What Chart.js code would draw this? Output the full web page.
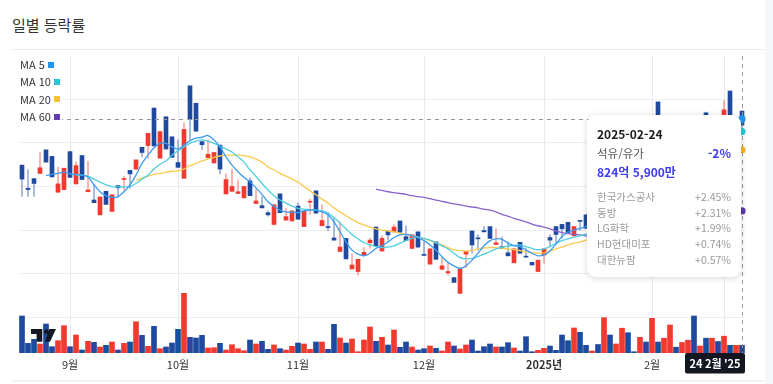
<!DOCTYPE html>
<html lang="ko">
<head>
<meta charset="utf-8">
<script src="https://cdn.jsdelivr.net/npm/chart.js@4.4.1/dist/chart.umd.min.js"></script>
<style>
html,body{margin:0;padding:0;background:#fff;}
body{width:773px;height:384px;position:relative;overflow:hidden;font-family:'Noto Sans CJK KR','Noto Sans',sans-serif;}
#title{position:absolute;left:12px;top:14px;font-size:15px;line-height:22px;color:#333;}
.hr{position:absolute;left:12px;width:753px;background:#ececee;}
#wrap{position:absolute;left:0;top:0;width:773px;height:384px;}
#strip{position:absolute;left:765px;top:0;width:8px;height:384px;background:#f5f6f8;}
#legend{position:absolute;left:19px;top:56px;font-size:11px;color:#333;}
#legend .row{height:17.3px;line-height:17.3px;display:flex;align-items:center;background:rgba(255,255,255,0.92);width:max-content;padding:0 2px 0 1px;}
#legend .sq{display:inline-block;width:6px;height:6px;margin-left:3px;}
#tip{position:absolute;left:587px;top:115px;width:154px;height:162px;background:#fff;border-radius:9px;box-shadow:0 1px 7px rgba(0,0,0,0.16);}
#tip .a{position:absolute;left:10px;right:10px;white-space:nowrap;}
#tip .date{top:11px;font-size:12px;line-height:16px;font-weight:bold;color:#1b1b1b;}
#tip .sec{top:30px;font-size:11.5px;line-height:16px;color:#555;display:flex;justify-content:space-between;}
#tip .sec b{color:#3b3bf0;font-size:12px;}
#tip .amt{top:49px;font-size:12px;line-height:16px;font-weight:bold;color:#3b3bf0;}
#tip .list{top:74px;font-size:10.5px;line-height:15.7px;color:#9a9a9a;}
#tip .list div{display:flex;justify-content:space-between;}
</style>
</head>
<body>
<div id="title">일별 등락률</div>
<div class="hr" style="top:49px;height:1px;"></div>
<div id="wrap"><canvas id="c"></canvas></div>
<div id="legend"></div>
<div id="tip">
  <div class="a date">2025-02-24</div>
  <div class="a sec"><span>석유/유가</span><b>-2%</b></div>
  <div class="a amt">824억 5,900만</div>
  <div class="a list" id="tipList"></div>
</div>
<div id="strip"></div>
<div class="hr" style="top:380px;height:2px;background:#f1f2f4;"></div>
<script>
// ---------- data ----------
const dates = [
 '2024-08-21','2024-08-22','2024-08-23','2024-08-26','2024-08-27','2024-08-28','2024-08-29','2024-08-30',
 '2024-09-02','2024-09-03','2024-09-04','2024-09-05','2024-09-06','2024-09-09','2024-09-10','2024-09-11','2024-09-12','2024-09-13','2024-09-19','2024-09-20','2024-09-23','2024-09-24','2024-09-25','2024-09-26','2024-09-27','2024-09-30',
 '2024-10-02','2024-10-04','2024-10-07','2024-10-08','2024-10-10','2024-10-11','2024-10-14','2024-10-15','2024-10-16','2024-10-17','2024-10-18','2024-10-21','2024-10-22','2024-10-23','2024-10-24','2024-10-25','2024-10-28','2024-10-29','2024-10-30','2024-10-31',
 '2024-11-01','2024-11-04','2024-11-05','2024-11-06','2024-11-07','2024-11-08','2024-11-11','2024-11-12','2024-11-13','2024-11-14','2024-11-15','2024-11-18','2024-11-19','2024-11-20','2024-11-21','2024-11-22','2024-11-25','2024-11-26','2024-11-27','2024-11-28','2024-11-29',
 '2024-12-02','2024-12-03','2024-12-04','2024-12-05','2024-12-06','2024-12-09','2024-12-10','2024-12-11','2024-12-12','2024-12-13','2024-12-16','2024-12-17','2024-12-18','2024-12-19','2024-12-20','2024-12-23','2024-12-24','2024-12-26','2024-12-27','2024-12-30',
 '2025-01-02','2025-01-03','2025-01-06','2025-01-07','2025-01-08','2025-01-09','2025-01-10','2025-01-13','2025-01-14','2025-01-15','2025-01-16','2025-01-17','2025-01-20','2025-01-21','2025-01-22','2025-01-23','2025-01-24','2025-01-31',
 '2025-02-03','2025-02-04','2025-02-05','2025-02-06','2025-02-07','2025-02-10','2025-02-11','2025-02-12','2025-02-13','2025-02-14','2025-02-17','2025-02-18','2025-02-19','2025-02-20','2025-02-21','2025-02-24'
];
const open = [34.9,29.6,31.8,33.0,38.4,36.9,28.7,29.3,38.0,30.6, 37.1,28.8,26.9,23.5,28.9,24.3,30.2,31.6,33.7,34.0,
 39.0,39.4,48.0,36.5,46.0,41.4,35.5,31.9,53.1,49.1, 40.3,36.6,35.4,39.5,28.3,28.9,28.4,27.4,31.3,26.1,
 25.6,24.0,21.3,28.3,22.3,22.1,25.5,20.8,26.4,29.0, 21.0,20.8,18.2,15.1,18.1,11.1,10.5,14.3,17.1,20.7,
 15.2,19.8,19.6,22.1,18.5,15.8,19.6,14.4,12.2,17.3, 11.0,10.2,9.1,5.5,14.5,19.8,18.2,19.9,20.8,16.7,
 16.2,14.8,12.5,17.2,14.0,12.6,10.5,14.3,18.3,20.8, 21.3,21.8,18.7,22.2,23.5,20.5,24.2,21.9,29.7,27.4,
 29.7,35.4,33.3,32.6,36.1,34.9,49.4,43.0,41.8,44.8, 41.8,43.4,45.3,40.7,46.9,44.1,45.3,44.1,51.9,43.9, 47.3];
const high = [34.9,33.8,31.8,37.8,38.4,36.9,34.4,34.2,38.0,35.7, 37.1,35.7,30.4,27.6,28.9,28.1,30.2,32.4,33.7,36.1,
 39.0,42.2,48.0,42.6,46.0,41.4,40.7,44.6,53.1,49.1, 40.3,40.7,37.8,39.5,32.9,34.0,31.5,30.0,32.0,29.4,
 27.7,24.4,25.8,28.3,25.0,24.4,26.2,24.4,27.1,29.0, 25.8,24.1,22.7,21.9,18.1,14.5,13.3,16.0,18.1,20.7,
 18.7,19.8,21.2,22.1,21.0,18.9,19.6,17.3,15.7,17.3, 13.7,12.4,9.1,11.4,15.1,19.8,18.9,20.8,20.8,20.3,
 18.4,17.3,15.7,17.2,15.8,12.6,13.1,15.7,19.0,20.8, 21.3,21.8,20.8,22.2,23.5,24.2,25.1,30.1,30.6,30.4,
 35.6,36.5,34.3,37.2,37.0,45.3,49.4,45.7,45.5,45.3, 44.8,45.7,45.7,44.3,47.1,45.7,45.7,49.7,51.9,45.5, 47.3];
const low = [27.7,27.7,27.7,33.0,35.6,32.2,28.7,29.3,32.1,30.6, 31.6,28.8,26.3,23.5,25.9,24.3,27.5,29.2,29.6,34.0,
 36.8,36.5,39.3,36.5,38.6,36.7,34.4,31.9,40.5,42.7, 38.5,36.6,35.4,32.9,28.3,28.9,28.4,27.4,27.9,26.1,
 25.1,23.2,21.3,24.0,22.3,22.1,22.5,20.8,23.6,23.9, 21.0,19.9,17.7,15.1,13.4,11.1,9.7,14.3,15.8,16.4,
 15.2,17.7,19.6,19.5,17.6,15.8,16.1,14.2,12.2,13.3, 11.0,9.7,8.0,5.5,11.4,14.7,15.4,19.6,18.1,16.7,
 15.8,14.1,12.5,14.7,13.8,12.0,10.5,12.4,16.2,17.0, 18.1,19.3,18.7,20.0,20.4,20.0,21.4,21.4,26.9,26.9,
 29.2,32.7,31.9,32.2,34.3,34.7,42.5,42.0,41.4,41.1, 41.4,43.0,40.2,40.2,44.3,43.7,43.0,43.7,45.3,43.4, 43.4];
const close = [31.7,29.3,30.7,34.3,35.6,32.2,30.6,34.2,32.1,34.8, 31.6,29.2,26.3,27.6,25.9,28.1,29.7,31.8,32.9,36.1,
 37.8,42.2,39.3,42.6,38.6,36.7,34.4,43.1,45.4,42.7, 39.6,37.4,37.8,34.0,31.6,30.0,28.8,30.0,27.9,26.7,
 25.1,23.5,25.8,24.0,23.1,24.4,22.5,24.4,26.6,23.9, 22.2,20.6,17.7,16.1,13.4,12.0,13.3,14.9,17.7,16.4,
 18.1,18.9,20.7,19.5,17.6,18.9,16.1,14.2,15.7,13.3, 11.8,10.5,8.0,11.0,15.1,16.6,18.0,19.6,18.1,17.1,
 15.8,14.1,15.7,14.7,13.8,12.0,13.1,15.7,17.7,19.0, 20.3,19.3,20.8,22.0,20.4,23.5,21.9,29.2,27.4,29.7,
 34.9,33.3,32.6,36.1,34.9,44.1,43.0,45.0,45.3,41.8, 44.1,45.5,40.7,43.9,44.8,45.5,43.4,47.6,45.7,45.3, 44.1];
// trading value (억원)
const volume = [3959,1038,1466,963,3103,674,1316,2921,674,1926, 321,1252,1145,642,824,1177,321,1038,1177,3349,
 1894,717,2857,460,642,1070,2536,6388,1680,1605, 1894,535,567,1038,321,888,460,246,1391,963,
 1252,396,856,460,321,717,1070,963,396,1177, 1177,396,3071,1605,1070,1498,139,1391,2782,1252,
 1680,856,2461,610,1177,642,321,460,749,503, 214,1177,749,428,856,1391,214,674,963,642,
 642,1102,535,214,1744,139,289,503,749,289, 1926,1316,2675,2215,824,214,910,3777,1926,963,
 2654,2172,139,1680,1177,3713,1177,1584,2996,621, 1124,1370,3959,749,1584,1584,1231,1798,824,824, 825];
// moving averages (first value sits at bar index period-1)
const ma5 = [32.5,32.8,33.0,33.3,32.9,32.8,32.6,32.2,30.4,28.8,27.9,27.5,27.7,28.8,30.4,32.6,35.3,37.2,38.9,39.9,
 39.9,39.1,38.6,39.5,40.5,41.1,41.3,41.7,40.7,39.1,36.8,34.9,33.4,32.1,31.1,29.7,28.2,26.5,25.4,24.6,
 24.2,24.1,24.0,24.4,24.6,24.6,24.2,23.5,21.9,19.6,17.3,15.4,14.5,14.1,14.7,15.8,16.4,17.3,18.3,18.9,
 19.0,18.7,18.3,17.6,16.6,15.4,13.9,12.6,11.8,11.2,11.8,13.1,14.7,16.4,17.6,18.0,17.9,17.0,16.4,16.2,
 15.4,14.7,14.1,14.3,15.2,16.8,18.5,19.5,20.0,20.4,20.8,21.6,22.6,24.2,25.8,27.4,29.2,31.0,32.2,33.3,
 34.2,36.1,38.4,40.0,41.6,43.0,43.7,43.9,43.7,43.9,44.3,44.8,44.8,45.3,45.5,45.5,45.5];
const ma10 = [32.6,32.6,32.4,31.7,31.0,30.4,30.0,29.9,29.9,30.0,30.7,31.7,32.6,34.0,35.1,35.9,37.2,38.2,39.1,39.9,
 40.4,40.7,40.4,39.9,39.3,38.6,37.9,36.8,35.6,33.8,32.3,30.7,29.2,27.9,26.9,26.2,25.5,25.0,24.8,24.7,
 24.6,24.4,23.9,22.9,21.6,20.3,19.0,18.0,17.1,16.6,16.2,16.0,16.1,16.4,17.0,17.6,18.1,18.4,18.1,17.7,
 17.1,16.4,15.7,14.7,13.7,13.4,13.5,13.9,14.5,15.1,15.7,16.1,16.4,16.5,16.6,16.2,15.8,15.5,15.7,16.2,
 17.0,17.6,18.0,18.4,18.7,19.1,19.6,20.0,20.9,21.9,22.8,24.2,25.3,26.7,28.1,29.4,31.0,32.9,34.7,36.1,
 37.5,38.4,39.3,40.0,40.7,41.4,41.8,42.1,42.3,42.5,42.5,42.6];
const ma20 = [31.4,31.9,32.4,32.8,33.0,33.3,33.5,33.6,34.0,34.8,35.3,35.9,36.3,36.7,37.0,37.2,37.2,37.2,37.1,36.8,
 36.3,35.6,34.5,33.8,33.0,32.4,31.7,31.0,30.0,29.0,28.1,27.1,26.2,25.1,24.2,23.3,22.5,21.7,21.2,20.7,
 20.3,20.0,19.8,19.6,19.3,19.0,18.7,18.4,18.0,17.6,17.1,16.6,16.0,15.5,15.3,15.2,15.4,15.7,15.9,16.0,
 16.0,15.9,15.7,15.5,15.3,15.0,14.8,14.7,14.8,15.2,15.7,16.1,16.6,17.0,17.3,17.7,18.0,18.2,18.6,19.1,
 19.6,20.3,20.9,21.6,22.6,23.5,24.6,26.0,27.4,28.7,30.1,31.3,32.4,33.3,34.3,35.2,35.9,36.5,37.2,37.7,
 38.2,38.4];
const ma60 = [29.4,29.1,28.8,28.6,28.4,28.2,27.9,27.7,27.5,27.2,26.9,26.6,26.3,26.0,25.8,25.5,25.3,25.1,24.8,24.6,
 24.2,23.6,23.2,22.7,22.3,21.9,21.4,21.0,20.7,20.3,19.8,19.4,19.2,19.0,18.9,18.7,18.6,18.6,18.7,18.8,
 18.9,19.1,19.3,19.6,19.8,20.1,20.4,20.7,21.1,21.4,21.8,22.1,22.4,22.7,22.9,23.2,23.4,23.7,23.9,24.0,
 24.2,24.4];
const tickDates = ['2024-09-02','2024-10-02','2024-11-01','2024-12-02','2025-01-02','2025-02-03','2025-02-19'];
const tickTexts = ['9월','10월','11월','12월','2025년','2월',''];
const priceGrid = [0,10,20,30,40,50];
const maNames = ['MA 5','MA 10','MA 20','MA 60'];
const maLegendColors = ['#2196f3','#26c6da','#fbc02d','#673ab7'];
const hoverDate = '2025-02-24';
const hoverLabel = "24 2월 '25";
const crosshairValue = 45.4;
const topNames = ['한국가스공사','동방','LG화학','HD현대미포','대한뉴팜'];
const topChanges = ['+2.45%','+2.31%','+1.99%','+0.74%','+0.57%'];

// ---------- html parts ----------
document.getElementById('legend').innerHTML = maNames.map((n,i)=>
  `<div class="row"><span>${n}</span><span class="sq" style="background:${maLegendColors[i]}"></span></div>`).join('');
document.getElementById('tipList').innerHTML = topNames.map((n,i)=>
  `<div><span>${n}</span><span>${topChanges[i]}</span></div>`).join('');

// ---------- chart ----------
const RED='#f0392f', BLUE='#1f4a9f', RED_W='rgba(240,57,47,0.45)', BLUE_W='rgba(31,74,159,0.45)';
const up = close.map((c,i)=>c>=open[i]);
const maPoints = (vals, period) => vals.map((v,k)=>({x: dates[k+period-1], y: v}));
const maSets = [[ma5,5,'#3b9cf2','#2196f3'],[ma10,10,'#4fcfe0','#26c6da'],[ma20,20,'#fcc94f','#f5b52e'],[ma60,60,'#8b63cc','#5e35b1']];

Chart.defaults.font.family = "'Noto Sans CJK KR','Noto Sans',sans-serif";

const overlay = {
  id:'overlay',
  afterDraw(chart){
    const {ctx, chartArea:a, scales:{x,y}} = chart;
    const idx = dates.indexOf(hoverDate);
    const px = x.getPixelForValue(idx);
    const py = y.getPixelForValue(crosshairValue);
    ctx.save();
    // TradingView-like logo
    const lx = a.left + 12, ly = a.bottom - 24;
    ctx.fillStyle = '#131722';
    ctx.fillRect(lx, ly, 11.3, 5);
    ctx.fillRect(lx+5.6, ly+5, 5.7, 7.7);
    ctx.beginPath(); ctx.arc(lx+15.3, ly+2.7, 2.4, 0, Math.PI*2); ctx.fill();
    ctx.beginPath(); ctx.moveTo(lx+18.3, ly); ctx.lineTo(lx+25, ly); ctx.lineTo(lx+19, ly+12.7); ctx.lineTo(lx+14, ly+12.7); ctx.closePath(); ctx.fill();
    // crosshair
    ctx.strokeStyle = '#9598a1'; ctx.lineWidth = 1; ctx.setLineDash([4,4]);
    ctx.beginPath(); ctx.moveTo(Math.round(px)+0.5, a.top); ctx.lineTo(Math.round(px)+0.5, a.bottom); ctx.stroke();
    ctx.beginPath(); ctx.moveTo(a.left, Math.round(py)+0.5); ctx.lineTo(a.right, Math.round(py)+0.5); ctx.stroke();
    ctx.setLineDash([]);
    // MA dots at hovered bar
    maSets.forEach(([vals, period, , dot])=>{
      const v = vals[idx-(period-1)];
      ctx.beginPath(); ctx.arc(px, y.getPixelForValue(v), 3.6, 0, Math.PI*2);
      ctx.fillStyle = dot; ctx.fill();
    });
    // date label box
    const bw = 60, bh = 20.5;
    const bx = Math.min(px - bw/2, a.right - bw);
    const by = a.bottom;
    ctx.fillStyle = '#131722';
    ctx.beginPath(); ctx.roundRect(bx, by, bw, bh, 2); ctx.fill();
    ctx.fillStyle = '#fff'; ctx.font = "bold 11px 'Noto Sans CJK KR','Noto Sans',sans-serif";
    ctx.textAlign = 'center'; ctx.textBaseline = 'middle';
    ctx.fillText(hoverLabel, bx + bw/2, by + bh/2 + 0.5);
    ctx.restore();
  }
};

new Chart(document.getElementById('c'), {
  type:'bar',
  data:{
    labels: dates,
    datasets:[
      ...maSets.map(([vals,period,col],k)=>({type:'line', label:maNames[k], data:maPoints(vals,period), borderColor:col,
        borderWidth:1.3, pointRadius:0, tension:0.3, order:k, yAxisID:'y'})),
      {type:'bar', label:'body', data:dates.map((d,i)=>[open[i],close[i]]), backgroundColor:up.map(u=>u?RED:BLUE),
        barThickness:4, grouped:false, minBarLength:1, order:10, yAxisID:'y'},
      {type:'bar', label:'wick', data:dates.map((d,i)=>[low[i],high[i]]), backgroundColor:up.map(u=>u?RED_W:BLUE_W),
        barThickness:1, grouped:false, order:11, yAxisID:'y'},
      {type:'bar', label:'volume', data:volume, backgroundColor:up.map(u=>u?RED:BLUE),
        barThickness:5, grouped:false, order:12, yAxisID:'yv'}
    ]
  },
  options:{
    animation:false, responsive:true, maintainAspectRatio:false,
    layout:{padding:{left:19,right:28,top:56,bottom:0}},
    plugins:{legend:{display:false}, tooltip:{enabled:false}},
    scales:{
      x:{type:'category', offset:true,
        grid:{offset:false, drawTicks:false, color:(c)=> (c.tick && c.tick.label!=null) ? '#e9eaee' : 'rgba(0,0,0,0)'},
        border:{display:false},
        ticks:{autoSkip:false, maxRotation:0, padding:5, color:'#333',
          font:(c)=>({size:11, weight:(c.tick && c.tick.label==='2025년') ? 'bold' : 'normal'}),
          callback:(v,i)=>{const k=tickDates.indexOf(dates[i]); return k<0 ? null : tickTexts[k];}},
        afterFit:(s)=>{s.height=31;}},
      y:{type:'linear', position:'left', min:-8.19, max:59.94,
        grid:{color:'#eceef1', drawTicks:false}, border:{display:false}, ticks:{display:false},
        afterBuildTicks:(s)=>{s.ticks = priceGrid.map(v=>({value:v}));},
        afterFit:(s)=>{s.width=0;}},
      yv:{type:'linear', display:false, min:0, max:31780}
    }
  },
  plugins:[overlay]
});
</script>
</body>
</html>
